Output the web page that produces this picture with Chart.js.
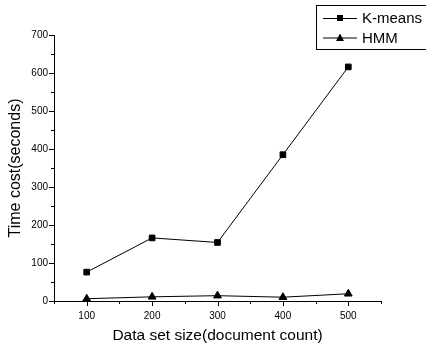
<!DOCTYPE html>
<html>
<head>
<meta charset="UTF-8">
<style>
    body { margin: 0; background: #fff; }
    #wrap { width: 426px; height: 346px; }
</style>
</head>
<body>
<div id="wrap"><canvas id="myChart" width="426" height="346"></canvas></div>
<script src="https://cdn.jsdelivr.net/npm/chart.js"></script>
<script>
    // data
    let docCounts = [100, 200, 300, 400, 500];
    let kmeansTime = [76, 166, 154, 385, 616];
    let hmmTime = [6, 11, 14, 10, 19];
    let seriesNames = ['K-means', 'HMM'];

    let xTitle = 'Data set size(document count)';
    let yTitle = 'Time cost(seconds)';

    function pts(vals) {
        return docCounts.map((d, i) => ({ x: d, y: vals[i] }));
    }

    // outward major/minor ticks like origin plots
    const tickMarks = {
        id: 'tickMarks',
        afterDraw(chart) {
            const ctx = chart.ctx;
            const xs = chart.scales.x, ys = chart.scales.y;
            ctx.save();
            ctx.strokeStyle = '#000';
            ctx.lineWidth = 1;
            ctx.beginPath();
            xs.ticks.forEach(t => {
                const px = Math.round(xs.getPixelForValue(t.value)) + 0.5;
                const len = t.value % 100 === 0 ? 5 : 3;
                ctx.moveTo(px, xs.top);
                ctx.lineTo(px, xs.top + len);
            });
            ys.ticks.forEach(t => {
                const py = Math.round(ys.getPixelForValue(t.value)) + 0.5;
                const len = t.value % 100 === 0 ? 5 : 3;
                ctx.moveTo(ys.right, py);
                ctx.lineTo(ys.right - len, py);
            });
            ctx.stroke();
            ctx.restore();
        }
    };

    // boxed legend with line + marker samples
    const boxLegend = {
        id: 'boxLegend',
        afterDraw(chart) {
            const ctx = chart.ctx;
            ctx.save();
            ctx.strokeStyle = '#000';
            ctx.lineWidth = 1;
            ctx.strokeRect(316.5, 5.5, 115, 44);
            ctx.font = '15px Arial, "Liberation Sans", sans-serif';
            ctx.textBaseline = 'middle';
            ctx.fillStyle = '#000';
            chart.data.datasets.forEach((ds, i) => {
                const y = 18 + i * 19.5;
                ctx.beginPath();
                ctx.moveTo(323, y + 0.5);
                ctx.lineTo(357, y + 0.5);
                ctx.stroke();
                if (ds.pointStyle === 'rect') {
                    ctx.fillRect(337, y - 3, 6, 6);
                } else {
                    ctx.beginPath();
                    ctx.moveTo(340, y - 4);
                    ctx.lineTo(344, y + 3.5);
                    ctx.lineTo(336, y + 3.5);
                    ctx.closePath();
                    ctx.fill();
                }
                ctx.fillText(ds.label, 362, y + 1);
            });
            ctx.restore();
        }
    };

    const config = {
        type: 'line',
        data: {
            datasets: [{
                label: seriesNames[0],
                data: pts(kmeansTime),
                borderColor: '#000',
                backgroundColor: '#000',
                borderWidth: 1,
                pointStyle: 'rect',
                pointRadius: 4,
                pointHoverRadius: 4
            }, {
                label: seriesNames[1],
                data: pts(hmmTime),
                borderColor: '#000',
                backgroundColor: '#000',
                borderWidth: 1,
                pointStyle: 'triangle',
                pointRadius: 4.5,
                pointHoverRadius: 4.5
            }]
        },
        options: {
            responsive: false,
            animation: false,
            layout: { padding: { top: 35, right: 45, left: 0, bottom: 0 } },
            scales: {
                x: {
                    type: 'linear',
                    min: 50,
                    max: 550,
                    grid: { display: false, drawTicks: false, tickLength: 0 },
                    border: { color: '#000', width: 1 },
                    afterFit: s => { s.height = 45; },
                    ticks: {
                        stepSize: 50,
                        padding: 9,
                        color: '#000',
                        maxRotation: 0,
                        autoSkip: false,
                        font: { family: 'Arial, "Liberation Sans", sans-serif', size: 10 },
                        callback: v => (v % 100 === 0 ? v : '')
                    },
                    title: {
                        display: true,
                        text: xTitle,
                        color: '#000',
                        font: { family: 'Arial, "Liberation Sans", sans-serif', size: 15.5 },
                        padding: { top: 2, bottom: 1 }
                    }
                },
                y: {
                    min: 0,
                    max: 700,
                    grid: { display: false, drawTicks: false, tickLength: 0 },
                    border: { color: '#000', width: 1 },
                    afterFit: s => { s.width = 54; },
                    ticks: {
                        stepSize: 50,
                        padding: 6,
                        color: '#000',
                        autoSkip: false,
                        font: { family: 'Arial, "Liberation Sans", sans-serif', size: 10 },
                        callback: v => (v % 100 === 0 ? v : '')
                    },
                    title: {
                        display: true,
                        text: yTitle,
                        color: '#000',
                        font: { family: 'Arial, "Liberation Sans", sans-serif', size: 16 },
                        padding: { top: 6, bottom: 0 }
                    }
                }
            },
            plugins: {
                legend: { display: false },
                tooltip: { enabled: false }
            }
        },
        plugins: [tickMarks, boxLegend]
    };

    const myChart = new Chart(document.getElementById('myChart'), config);
</script>
</body>
</html>
